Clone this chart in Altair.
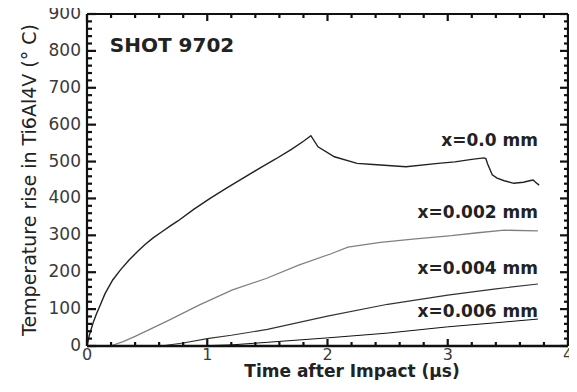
import altair as alt
import pandas as pd

# ---- data ----
t_00 = [0.0, 0.02, 0.051, 0.08, 0.106, 0.15, 0.214, 0.28, 0.35, 0.42, 0.485, 0.55, 0.62, 0.69,
        0.756, 0.89, 1.027, 1.16, 1.298, 1.43, 1.569, 1.7, 1.8, 1.862,
        1.921, 2.057, 2.246, 2.38, 2.653, 2.92, 3.059, 3.2, 3.30, 3.317, 3.33, 3.37, 3.41, 3.47, 3.55,
        3.63, 3.68, 3.71, 3.73, 3.76]
T_00 = [0, 30, 63, 88, 108, 142, 179, 207, 233, 256, 276, 293, 309, 325,
        339, 371, 401, 428, 455, 481, 507, 533, 555, 570,
        540, 513, 495, 492, 486, 495, 499, 506, 510, 508, 495, 464, 455, 448, 441,
        444, 448, 450, 444, 436]

t_002 = [0.195, 0.30, 0.40, 0.67, 0.94, 1.21, 1.49, 1.76, 2.03, 2.17, 2.44, 2.71, 3.03, 3.25, 3.47, 3.75]
T_002 = [0, 12, 26, 68, 112, 152, 183, 219, 250, 268, 281, 290, 299, 307, 314, 312]

t_004 = [0.615, 0.8, 1.0, 1.2, 1.5, 2.0, 2.5, 3.0, 3.4, 3.75]
T_004 = [0, 8, 20, 29, 45, 81, 113, 138, 155, 168]

t_006 = [0.9, 1.2, 1.5, 2.0, 2.5, 3.0, 3.4, 3.75]
T_006 = [0, 3, 10, 22, 35, 52, 63, 73]

series_names = ["x=0.0 mm", "x=0.002 mm", "x=0.004 mm", "x=0.006 mm"]
series_colors = ["#222222", "#808080", "#333333", "#111111"]
series_widths = [1.4, 1.0, 1.3, 2.0]

label_t = [3.75, 3.75, 3.75, 3.75]
label_T = [555, 360, 208, 91]

shot_text = ["SHOT 9702"]
shot_t = [0.19]
shot_T = [814]

x_title = "Time after Impact (µs)"
y_title = "Temperature rise in Ti6Al4V (° C)"

x_major = [0, 1, 2, 3, 4]
x_minor = [0.2, 0.4, 0.6, 0.8, 1.2, 1.4, 1.6, 1.8, 2.2, 2.4, 2.6, 2.8, 3.2, 3.4, 3.6, 3.8]
y_major = [0, 100, 200, 300, 400, 500, 600, 700, 800, 900]
y_minor = [v + d for v in range(0, 900, 100) for d in (20, 40, 60, 80)]

X_MAX, Y_MAX = 4, 900
W, H = 481, 332

# ---- build tables ----
rows = []
for name, ts, Ts in zip(series_names, [t_00, t_002, t_004, t_006], [T_00, T_002, T_004, T_006]):
    for i, (a, b) in enumerate(zip(ts, Ts)):
        rows.append({"series": name, "t": a, "T": b, "order": i})
df = pd.DataFrame(rows)

lab = pd.DataFrame({"t": label_t, "T": label_T, "text": series_names})
shot = pd.DataFrame({"t": shot_t, "T": shot_T, "text": shot_text})

FONT = "DejaVu Sans"
xs = alt.Scale(domain=[0, X_MAX], nice=False, zero=False)
ys = alt.Scale(domain=[0, Y_MAX], nice=False, zero=False)
AX = "#111111"
LBL = "#3a3a3a"

lines = alt.Chart(df).mark_line(interpolate="linear").encode(
    x=alt.X("t:Q", scale=xs, axis=None),
    y=alt.Y("T:Q", scale=ys, axis=None),
    detail="series:N",
    order="order:Q",
    color=alt.Color("series:N", scale=alt.Scale(domain=series_names, range=series_colors), legend=None),
    strokeWidth=alt.StrokeWidth("series:N", scale=alt.Scale(domain=series_names, range=series_widths), legend=None),
)


def xticks(vals, y_from, y_to, width):
    return alt.Chart(pd.DataFrame({"v": vals})).mark_rule(color=AX, strokeWidth=width).encode(
        x=alt.X("v:Q", scale=xs, axis=None), y=alt.value(y_from), y2=alt.value(y_to))


def yticks(vals, x_from, x_to, width):
    return alt.Chart(pd.DataFrame({"v": vals})).mark_rule(color=AX, strokeWidth=width).encode(
        y=alt.Y("v:Q", scale=ys, axis=None), x=alt.value(x_from), x2=alt.value(x_to))


ticks = [
    xticks(x_major, H, H - 7, 2.2), xticks(x_minor, H, H - 4, 2.2),
    xticks(x_major, 0, 7, 2.2), xticks(x_minor, 0, 4, 2.2),
    yticks(y_major, 0, 9, 2.2), yticks(y_minor, 0, 5, 2.2),
    yticks(y_major, W, W - 8, 2.2), yticks(y_minor, W, W - 4, 2.2),
]

# frame lines: left and bottom heavier, top and right lighter
left_dom = alt.Chart(pd.DataFrame({"v": [0]})).mark_rule(color=AX, strokeWidth=2.2).encode(
    x=alt.X("v:Q", scale=xs, axis=None), y=alt.value(0), y2=alt.value(H))
bottom_dom = alt.Chart(pd.DataFrame({"v": [0]})).mark_rule(color=AX, strokeWidth=2.6).encode(
    y=alt.Y("v:Q", scale=ys, axis=None), x=alt.value(0), x2=alt.value(W))
right_dom = alt.Chart(pd.DataFrame({"v": [X_MAX]})).mark_rule(color=AX, strokeWidth=2.2).encode(
    x=alt.X("v:Q", scale=xs, axis=None), y=alt.value(0), y2=alt.value(H))
top_dom = alt.Chart(pd.DataFrame({"v": [Y_MAX]})).mark_rule(color=AX, strokeWidth=2.2).encode(
    y=alt.Y("v:Q", scale=ys, axis=None), x=alt.value(0), x2=alt.value(W))

# tick labels
x_lab = alt.Chart(pd.DataFrame({"v": x_major})).mark_text(
    baseline="top", dy=1, font=FONT, fontSize=16, color=LBL
).encode(x=alt.X("v:Q", scale=xs, axis=None), y=alt.value(H), text=alt.Text("v:Q", format="d"))

y_lab = alt.Chart(pd.DataFrame({"v": y_major})).mark_text(
    align="right", baseline="middle", dx=-6, font=FONT, fontSize=17, color=LBL
).encode(y=alt.Y("v:Q", scale=ys, axis=None), x=alt.value(0), text=alt.Text("v:Q", format="d"))

# axis titles
x_tit = alt.Chart(pd.DataFrame({"text": [x_title]})).mark_text(
    align="center", baseline="middle", font=FONT, fontSize=17, fontWeight="bold", color="#222222"
).encode(x=alt.value(265), y=alt.value(H + 26), text="text:N")

y_tit = alt.Chart(pd.DataFrame({"text": [y_title]})).mark_text(
    align="center", baseline="middle", angle=270, font=FONT, fontSize=19, color="#222222"
).encode(x=alt.value(-57), y=alt.value(H / 2), text="text:N")

labels = alt.Chart(lab).mark_text(
    align="right", baseline="middle", font=FONT, fontSize=17, fontWeight="bold", color="#222222"
).encode(
    x=alt.X("t:Q", scale=xs, axis=None),
    y=alt.Y("T:Q", scale=ys, axis=None),
    text="text:N",
)

shot_lab = alt.Chart(shot).mark_text(
    align="left", baseline="middle", font=FONT, fontSize=20, fontWeight="bold", color="#222222"
).encode(
    x=alt.X("t:Q", scale=xs, axis=None),
    y=alt.Y("T:Q", scale=ys, axis=None),
    text="text:N",
)

chart = alt.layer(
    lines, *ticks, left_dom, bottom_dom, right_dom, top_dom,
    x_lab, y_lab, x_tit, y_tit, labels, shot_lab
).properties(
    width=W, height=H, autosize="none",
    padding={"left": 79, "top": 6, "right": 1, "bottom": 34},
    background="white",
).configure_view(strokeWidth=0)

chart.save("out.html", embed_options={"renderer": "svg", "actions": False})
